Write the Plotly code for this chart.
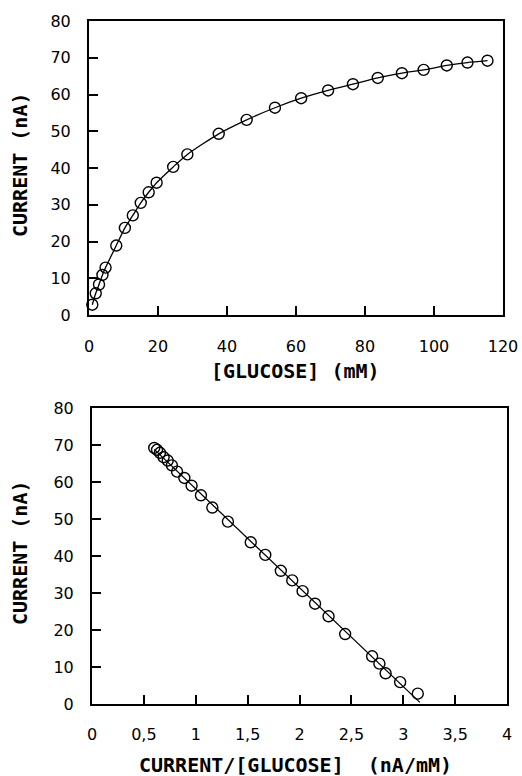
import numpy as np
import plotly.graph_objects as go

# Data
glucose = [0.95, 1.95, 2.9, 3.9, 4.8, 7.9, 10.4, 12.7, 15.0, 17.3, 19.6, 24.4, 28.5,
           37.6, 45.7, 53.9, 61.5, 69.3, 76.5, 83.7, 90.7, 97.0, 103.7, 109.7, 115.5]
current = [2.8, 5.9, 8.3, 10.9, 12.9, 18.9, 23.7, 27.1, 30.5, 33.4, 36.0, 40.3, 43.7,
           49.3, 53.1, 56.4, 59.0, 61.1, 62.8, 64.5, 65.8, 66.7, 67.9, 68.7, 69.2]
ratio = [3.14, 2.97, 2.83, 2.77, 2.70, 2.44, 2.28, 2.15, 2.03, 1.93, 1.82, 1.67, 1.53,
         1.31, 1.16, 1.05, 0.96, 0.89, 0.82, 0.77, 0.73, 0.69, 0.655, 0.627, 0.60]

x1_ticks = [0, 20, 40, 60, 80, 100, 120]
y_ticks = [0, 10, 20, 30, 40, 50, 60, 70, 80]
x2_ticks = [0, 0.5, 1, 1.5, 2, 2.5, 3, 3.5, 4]
x2_labels = ["0", "0,5", "1", "1,5", "2", "2,5", "3", "3,5", "4"]

# linear fit (Eadie-Hofstee) for the straight line in the lower panel
slope, intercept = np.polyfit(ratio, current, 1)
fit_x = np.array([min(ratio), max(ratio) + 0.02])
fit_y = slope * fit_x + intercept

fig = go.Figure()

fig.add_trace(go.Scatter(
    x=glucose, y=current, mode="lines+markers",
    line=dict(color="black", width=1.3, shape="spline", smoothing=0.6),
    marker=dict(symbol="circle-open", size=11, color="black", line=dict(width=1.4)),
    xaxis="x", yaxis="y", cliponaxis=False, showlegend=False))

fig.add_trace(go.Scatter(
    x=fit_x, y=fit_y, mode="lines",
    line=dict(color="black", width=1.3),
    xaxis="x2", yaxis="y2", showlegend=False))

fig.add_trace(go.Scatter(
    x=ratio, y=current, mode="markers",
    marker=dict(symbol="circle-open", size=11, color="black", line=dict(width=1.4)),
    xaxis="x2", yaxis="y2", cliponaxis=False, showlegend=False))

tickfont = dict(family="DejaVu Sans", size=16, color="black")
axis_common = dict(showgrid=False, zeroline=False, showline=True, linecolor="black",
                   linewidth=2, mirror=True, ticks="inside", ticklen=9, tickwidth=2,
                   tickcolor="black", tickfont=tickfont, automargin=False)

W, H = 522, 776


def px(x):
    return x / W


def py(y):
    return 1 - y / H


fig.update_layout(
    width=W, height=H,
    margin=dict(l=0, r=0, t=0, b=0),
    paper_bgcolor="white", plot_bgcolor="white",
    xaxis=dict(domain=[px(89), px(503)], range=[0, 120], tickvals=x1_ticks,
               anchor="y", ticklabelstandoff=16, **axis_common),
    yaxis=dict(domain=[py(315), py(21)], range=[0, 80], tickvals=y_ticks,
               anchor="x", ticklabelstandoff=13, **axis_common),
    xaxis2=dict(domain=[px(92), px(507)], range=[0, 4], tickvals=x2_ticks,
                ticktext=x2_labels, anchor="y2", ticklabelstandoff=15, **axis_common),
    yaxis2=dict(domain=[py(704), py(408)], range=[0, 80], tickvals=y_ticks,
                anchor="x2", ticklabelstandoff=13, **axis_common),
)

titlefont = dict(family="DejaVu Sans Mono", size=20, color="black", weight="bold")
fig.add_annotation(text="[GLUCOSE] (mM)", x=px(295), y=py(371), xref="paper", yref="paper",
                   showarrow=False, font=titlefont, xanchor="center", yanchor="middle")
fig.add_annotation(text="CURRENT (nA)", x=px(20), y=py(165), xref="paper", yref="paper",
                   showarrow=False, font=titlefont, textangle=-90, xanchor="center", yanchor="middle")
fig.add_annotation(text="CURRENT/[GLUCOSE]  (nA/mM)", x=px(295), y=py(765), xref="paper",
                   yref="paper", showarrow=False, font=titlefont, xanchor="center", yanchor="middle")
fig.add_annotation(text="CURRENT (nA)", x=px(20), y=py(553), xref="paper", yref="paper",
                   showarrow=False, font=titlefont, textangle=-90, xanchor="center", yanchor="middle")

fig.write_html("out.html", config={"displayModeBar": False},
               post_script="document.body.style.margin='0';document.body.style.overflow='hidden';")
